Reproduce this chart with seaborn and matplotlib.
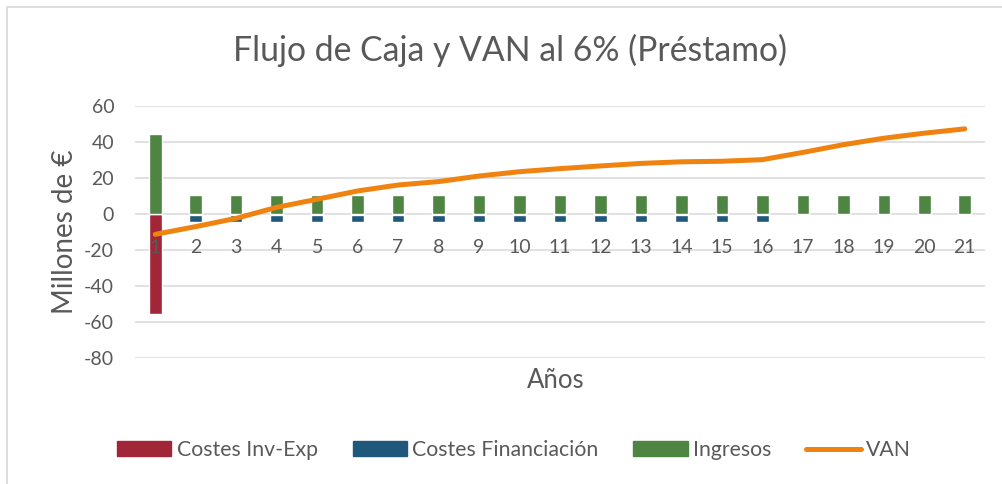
import numpy as np
import pandas as pd
import matplotlib
matplotlib.use("Agg")
import matplotlib.pyplot as plt
import seaborn as sns
from matplotlib.patches import Patch, Rectangle
from matplotlib.lines import Line2D

# Datos (millones de €)
anios = [str(i) for i in range(1, 22)]
costes_inv = [-55.5, -0.4, -0.4, -0.4, -0.4, -0.4, -0.4, -0.4, -0.4, -0.4, -0.4,
              -0.4, -0.4, -0.4, -0.4, -0.4, -0.4, -0.4, -0.4, -0.4, -0.4]
costes_fin = [0.0, -4.1, -4.1, -4.1, -4.1, -4.1, -4.1, -4.1, -4.1, -4.1, -4.1,
              -4.1, -4.1, -4.1, -4.1, -4.1, 0.0, 0.0, 0.0, 0.0, 0.0]
ingresos = [44.5, 10.6, 10.6, 10.6, 10.6, 10.6, 10.6, 10.6, 10.6, 10.6, 10.6,
            10.6, 10.6, 10.6, 10.6, 10.6, 10.6, 10.6, 10.6, 10.6, 10.6]
van = [-11.3, -7.0, -2.4, 3.7, 8.2, 12.8, 16.1, 18.0, 21.1, 23.5, 25.2,
       26.7, 28.1, 29.0, 29.3, 30.2, 34.2, 38.5, 42.1, 44.9, 47.3]

df = pd.DataFrame({"Año": anios, "Costes Inv-Exp": costes_inv,
                   "Costes Financiación": costes_fin, "Ingresos": ingresos,
                   "VAN": van})
df["pos"] = np.arange(len(df))
df["costes_total"] = df["Costes Inv-Exp"] + df["Costes Financiación"]

rojo = "#A02638"
azul = "#1F587A"
verde = "#4E8542"
naranja = "#F0820F"
gris = "#595959"

sns.set_theme(style="white")
plt.rcParams["font.family"] = ["Lato", "DejaVu Sans"]
plt.rcParams["axes.unicode_minus"] = False

fig = plt.figure(figsize=(10.02, 4.84), dpi=100)
ax = fig.add_axes([135 / 1002, 1 - 358 / 484, 850 / 1002, 252 / 484])

# líneas de cuadrícula detrás de todo
for yv in range(-80, 61, 20):
    ax.axhline(yv, color="#D9D9D9", linewidth=1.1, zorder=0.5)

# barras apiladas: primero el total negativo, encima la parte Inv-Exp
sns.barplot(data=df, x="Año", y="costes_total", color=azul, width=0.31,
            saturation=1, ax=ax, zorder=2)
sns.barplot(data=df, x="Año", y="Costes Inv-Exp", color=rojo, width=0.31,
            saturation=1, ax=ax, zorder=2)
sns.barplot(data=df, x="Año", y="Ingresos", color=verde, width=0.31,
            saturation=1, ax=ax, zorder=2)
sns.lineplot(data=df, x="pos", y="VAN", color=naranja, linewidth=3.6,
             solid_capstyle="round", ax=ax, zorder=3)

ax.set_ylim(-80, 60)
ax.set_xlim(-0.5, 20.5)
ax.set_yticks(range(-80, 61, 20))
ax.grid(False)
ax.set_axisbelow(False)  # etiquetas del eje por encima de las barras
for s in ax.spines.values():
    s.set_visible(False)
ax.spines["bottom"].set_position(("data", 0))
ax.tick_params(axis="both", length=0, labelsize=14, labelcolor=gris)
ax.tick_params(axis="x", pad=18)
ax.tick_params(axis="y", pad=15)
ax.set_xlabel("")
ax.set_ylabel("Millones de €", fontsize=20, color=gris, labelpad=4)

fig.text(556 / 1002, 1 - 380 / 484, "Años", ha="center", va="center",
         fontsize=18.5, color=gris)
fig.text(510 / 1002, 1 - 50 / 484, "Flujo de Caja y VAN al 6% (Préstamo)",
         ha="center", va="center", fontsize=24.3, color=gris)

handles = [Patch(color=rojo), Patch(color=azul), Patch(color=verde),
           Line2D([], [], color=naranja, linewidth=3.6, solid_capstyle="round")]
labels = ["Costes Inv-Exp", "Costes Financiación", "Ingresos", "VAN"]
fig.legend(handles, labels, loc="center", bbox_to_anchor=(514 / 1002, 1 - 450 / 484),
           ncol=4, frameon=False, fontsize=15.3, labelcolor=gris,
           handlelength=2.55, handleheight=0.65, handletextpad=0.25,
           columnspacing=1.65)

# borde del gráfico
fig.patches.append(Rectangle((7 / 1002, -0.1), 1.2, 1 - 7 / 484 + 0.1,
                             transform=fig.transFigure, fill=False,
                             edgecolor="#D9D9D9", linewidth=1.2))

fig.savefig("out.png", dpi=100)
